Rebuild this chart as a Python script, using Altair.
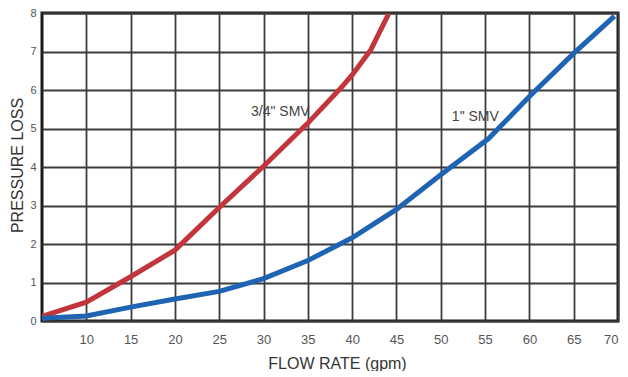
import altair as alt
import pandas as pd

# 3/4" SMV curve
red_x = [5, 10, 15, 20, 25, 30, 35, 38.8, 40, 42.1, 44.1]
red_y = [0.12, 0.49, 1.15, 1.84, 2.95, 4.02, 5.14, 6.07, 6.39, 7.04, 7.97]
# 1" SMV curve
blue_x = [5, 10, 15, 20, 25, 30, 35, 40, 45, 50, 55.4, 60, 65, 69.6]
blue_y = [0.07, 0.13, 0.36, 0.57, 0.77, 1.1, 1.57, 2.16, 2.9, 3.8, 4.74, 5.83, 6.95, 7.92]

series_names = ['3/4" SMV', '1" SMV']
series_colors = ["#c1353b", "#1f63b3"]
label_x = [31.9, 53.9]
label_y = [5.43, 5.3]

x_ticks = [10, 15, 20, 25, 30, 35, 40, 45, 50, 55, 60, 65, 70]
y_ticks = [0, 1, 2, 3, 4, 5, 6, 7, 8]

FONT = "Liberation Sans, Arial, sans-serif"

rows = []
for name, xs, ys in [(series_names[0], red_x, red_y), (series_names[1], blue_x, blue_y)]:
    for i, (xv, yv) in enumerate(zip(xs, ys)):
        rows.append({"series": name, "flow": xv, "loss": yv, "order": i})
df = pd.DataFrame(rows)
labels = pd.DataFrame({"series": series_names, "flow": label_x, "loss": label_y})

xscale = alt.Scale(domain=[5, 70], nice=False, zero=False)
yscale = alt.Scale(domain=[0, 8], nice=False)

x_axis = alt.Axis(
    title="FLOW RATE (gpm)", values=x_ticks, labelFontSize=13, labelPadding=12,
    labelOverlap=False, labelFlush=True,
    titleFontSize=16, titleFontWeight="normal", titleX=295, titleY=42,
    titleBaseline="middle", titleColor="#333",
)
y_axis = alt.Axis(
    title="PRESSURE LOSS", values=y_ticks, labelFontSize=11, labelPadding=6,
    labelOverlap=False, labelFlush=False, labelExpr="datum.value",
    titleFontSize=16, titleFontWeight="normal", titleX=-25, titleY=152,
    titleBaseline="middle", titleColor="#333",
)

lines = alt.Chart(df).mark_line(strokeWidth=5, strokeCap="butt", clip=True).encode(
    x=alt.X("flow:Q", scale=xscale, axis=x_axis),
    y=alt.Y("loss:Q", scale=yscale, axis=y_axis),
    color=alt.Color("series:N", scale=alt.Scale(domain=series_names, range=series_colors), legend=None),
    order="order:Q",
)

texts = alt.Chart(labels).mark_text(font=FONT, fontSize=14, color="#444").encode(
    x=alt.X("flow:Q", scale=xscale, axis=x_axis),
    y=alt.Y("loss:Q", scale=yscale, axis=y_axis),
    text="series:N",
)

chart = (
    alt.layer(lines, texts)
    .properties(
        width=576, height=308,
        autosize=alt.AutoSizeParams(type="none"),
        padding={"left": 34, "top": 5, "right": 2, "bottom": 50},
        background="white",
    )
    .configure_view(stroke="#1a1a1a", strokeWidth=3)
    .configure_axis(
        grid=True, gridColor="#3c3c3c", gridWidth=1.8, gridOpacity=1,
        domain=False, ticks=False, labelOverlap=False,
        labelFont=FONT, labelColor="#555", titleFont=FONT,
    )
)

chart.save("out.html", embed_options={"renderer": "svg", "actions": False})
